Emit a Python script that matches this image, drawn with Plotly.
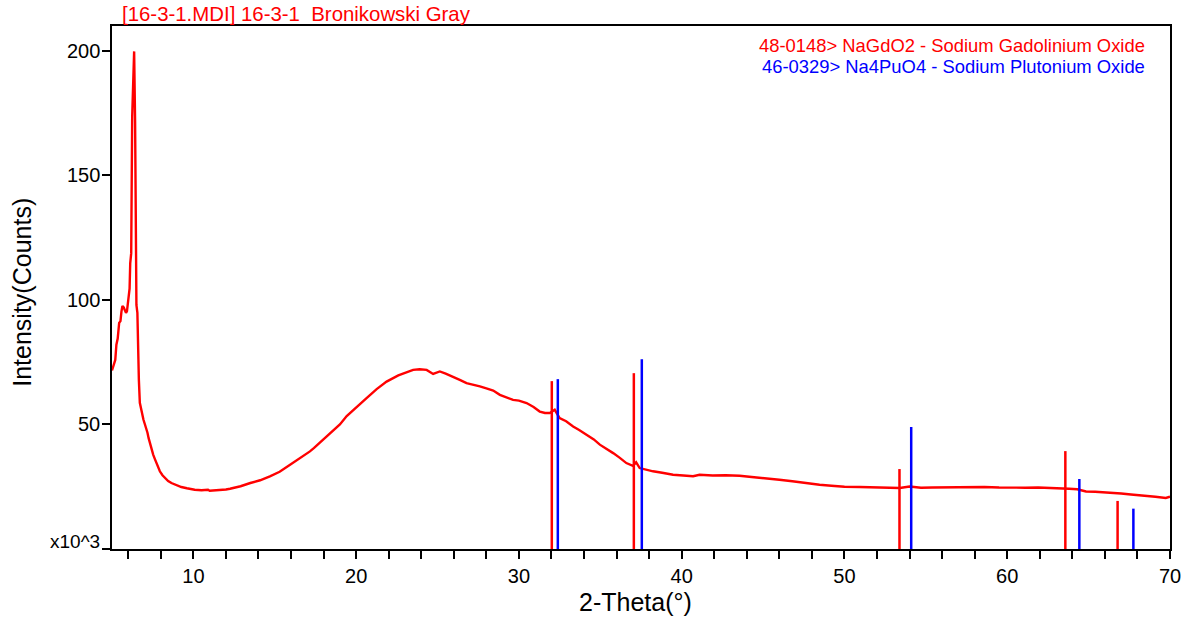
import plotly.graph_objects as go

# ---- measured pattern (2-theta in degrees, intensity in x10^3 counts) ----
two_theta = [5.0, 5.1, 5.2, 5.27, 5.35, 5.44, 5.52, 5.58, 5.64, 5.72, 5.79, 5.86, 5.92, 5.97,
             6.03, 6.08, 6.12, 6.18, 6.24, 6.3, 6.36, 6.42, 6.46, 6.5, 6.56, 6.6, 6.65, 6.71,
             6.78, 6.85, 6.93, 7.01, 7.1, 7.18, 7.25, 7.32, 7.42, 7.53, 7.63, 7.73, 7.84, 7.94,
             8.1, 8.24, 8.45, 8.65, 8.95, 9.26, 9.6, 9.8, 10.08, 10.5, 10.9, 11.0, 11.3, 11.7,
             12.0, 12.25, 12.9, 13.5, 14.1, 14.7, 15.3, 15.94, 16.55, 17.16, 17.4, 17.98, 18.6,
             19.0, 19.42, 20.03, 20.64, 21.26, 21.87, 22.59, 23.0, 23.5, 23.9, 24.33, 24.73,
             25.14, 25.5, 25.96, 26.4, 26.78, 27.2, 27.6, 28.0, 28.42, 28.83, 29.2, 29.64, 30.0,
             30.47, 30.9, 31.28, 31.6, 31.9, 32.2, 32.5, 32.9, 33.33, 33.7, 34.15, 34.6, 34.97,
             35.4, 35.79, 36.2, 36.6, 37.0, 37.2, 37.42, 37.8, 38.24, 38.8, 39.47, 40.1, 40.7,
             41.1, 41.9, 42.7, 43.56, 44.3, 45.1, 46.0, 46.8, 47.6, 48.47, 49.2, 50.0, 50.93,
             51.7, 52.5, 53.4, 54.0, 54.7, 55.4, 56.2, 57.0, 57.8, 58.6, 59.5, 60.3, 61.1, 61.9,
             62.6, 63.2, 63.8, 64.3, 64.84, 65.4, 66.0, 66.47, 67.0, 67.6, 68.1, 68.6, 69.1,
             69.74, 70.0]
intensity = [71.7, 74.0, 75.9, 82.0, 84.5, 90.8, 91.5, 95.3, 97.6, 97.0, 96.0, 94.8, 95.5, 98.0,
             100.8, 104.5, 114.8, 118.8, 173.5, 184.0, 199.8, 171.0, 102.8, 98.0, 94.8, 70.7, 68.0, 58.7,
             56.0, 53.9, 52.0, 50.3, 48.5, 46.7, 44.5, 42.7, 40.3, 37.9, 36.2, 34.6, 32.8, 31.2,
             29.6, 28.5, 27.3, 26.5, 25.6, 24.9, 24.4, 24.1, 23.8, 23.6, 23.8, 23.4, 23.5, 23.8,
             23.9, 24.2, 25.2, 26.5, 27.6, 29.2, 31.0, 33.8, 36.4, 39.2, 40.5, 43.9, 47.4,
             50.0, 53.4, 57.2, 60.6, 64.2, 67.2, 69.7, 70.8, 71.9, 72.2, 71.9, 70.3,
             71.3, 70.4, 69.2, 67.8, 66.6, 66.0, 65.3, 64.5, 63.6, 61.9, 61.0, 59.9, 59.6,
             58.6, 57.0, 55.2, 54.6, 54.6, 55.9, 52.6, 51.3, 49.2, 47.8, 45.9, 44.0, 41.9,
             40.2, 38.5, 36.6, 34.5, 33.4, 34.8, 32.5, 31.8, 31.2, 30.6, 29.8, 29.5, 29.2,
             29.8, 29.5, 29.6, 29.4, 28.9, 28.5, 27.8, 27.2, 26.4, 25.8, 25.4, 25.0, 24.9,
             24.7, 24.6, 24.5, 25.1, 24.6, 24.7, 24.8, 24.6, 24.7, 24.9, 24.7, 24.8, 24.6, 24.7,
             24.6, 24.5, 24.2, 24.0, 23.1, 23.0, 22.8, 22.5, 22.3, 21.9, 21.7, 21.3, 21.0,
             20.5, 21.0]

# ---- reference patterns (stick positions and heights) ----
nagdo2_pos = [32.02, 37.06, 53.38, 63.57, 66.78]
nagdo2_height = [67.4, 70.6, 32.1, 39.3, 19.3]
na4puo4_pos = [32.39, 37.55, 54.1, 64.43, 67.75]
na4puo4_height = [68.2, 76.2, 49.0, 28.1, 16.2]

title_text = "[16-3-1.MDI] 16-3-1  Bronikowski Gray"
legend_red = "48-0148> NaGdO2 - Sodium Gadolinium Oxide"
legend_blue = "46-0329> Na4PuO4 - Sodium Plutonium Oxide"
x_title = "2-Theta(°)"
y_title = "Intensity(Counts)"
y_ticks = [50, 100, 150, 200]
x_ticks = [10, 20, 30, 40, 50, 60, 70]

RED = "#FF0000"
BLUE = "#0000FF"
FONT = "Liberation Sans, Arial, sans-serif"


def sticks(pos, h):
    xs, ys = [], []
    for p, v in zip(pos, h):
        xs += [p, p, None]
        ys += [0, v, None]
    return xs, ys


fig = go.Figure()
fig.add_trace(go.Scatter(x=two_theta, y=intensity, mode="lines",
                         line=dict(color=RED, width=2.4), hoverinfo="skip"))
sx, sy = sticks(nagdo2_pos, nagdo2_height)
fig.add_trace(go.Scatter(x=sx, y=sy, mode="lines", line=dict(color=RED, width=2.5)))
sx, sy = sticks(na4puo4_pos, na4puo4_height)
fig.add_trace(go.Scatter(x=sx, y=sy, mode="lines", line=dict(color=BLUE, width=2.5)))

fig.update_layout(
    width=1193, height=622,
    margin=dict(l=112, r=23, t=26, b=73),
    paper_bgcolor="white", plot_bgcolor="white",
    showlegend=False,
    font=dict(family=FONT, color="black", size=20),
)
fig.update_xaxes(
    range=[5, 70], tickvals=x_ticks, ticks="outside", ticklen=8, tickwidth=2,
    tickcolor="black", showline=True, linecolor="black", linewidth=2, mirror=True,
    showgrid=False, zeroline=False,
    minor=dict(tickmode="linear", tick0=0, dtick=2, ticks="outside", ticklen=8,
               tickwidth=2, tickcolor="black", showgrid=False),
    tickfont=dict(size=20, color="black"),
)
fig.update_yaxes(
    range=[0, 210], tickvals=[0] + y_ticks, showticklabels=False,
    ticks="outside", ticklen=8, tickwidth=2, tickcolor="black",
    showline=True, linecolor="black", linewidth=2, mirror=True,
    showgrid=False, zeroline=False,
)

# y tick labels placed next to the tick marks
for v in y_ticks:
    fig.add_annotation(x=0, y=v, xref="paper", yref="y", text=str(v), showarrow=False,
                       xanchor="right", yanchor="middle", xshift=-10,
                       font=dict(size=20, color="black"))

fig.add_annotation(x=0.495, y=-0.1005, xref="paper", yref="paper", text=x_title,
                   showarrow=False, xanchor="center", yanchor="middle",
                   font=dict(size=25, color="black"))
fig.add_annotation(x=-0.0851, y=0.4918, xref="paper", yref="paper", text=y_title,
                   showarrow=False, xanchor="center", yanchor="middle", textangle=-90,
                   font=dict(size=25, color="black"))
fig.add_annotation(x=0, y=0, xref="paper", yref="y", text="x10^3", showarrow=False,
                   xanchor="right", yanchor="middle", xshift=-10, yshift=8,
                   font=dict(size=19, color="black"))
fig.add_annotation(x=0.0076, y=1.0229, xref="paper", yref="paper", text=title_text,
                   showarrow=False, xanchor="left", yanchor="middle",
                   font=dict(size=20.4, color=RED))
fig.add_annotation(x=0.978, y=0.9618, xref="paper", yref="paper", text=legend_red,
                   showarrow=False, xanchor="right", yanchor="middle",
                   font=dict(size=18.4, color=RED))
fig.add_annotation(x=0.978, y=0.9235, xref="paper", yref="paper", text=legend_blue,
                   showarrow=False, xanchor="right", yanchor="middle",
                   font=dict(size=18.4, color=BLUE))

fig.write_html("out.html", config={"displayModeBar": False},
               post_script="document.body.style.margin='0';")
